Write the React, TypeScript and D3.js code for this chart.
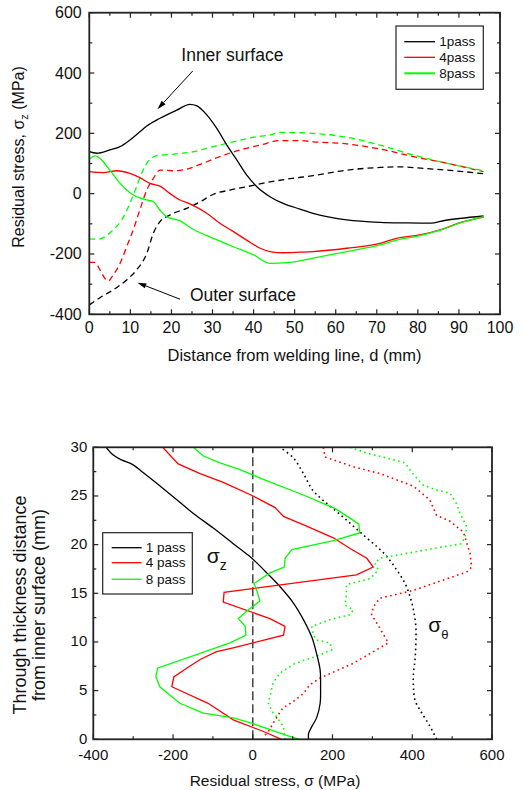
import React from 'react';
import * as d3 from 'd3';

// ---- Axial residual stress along the pipe surface (distance d in mm, stress in MPa) ----
// Inner surface (solid lines)
const inner1Dist = [0, 1.8, 5, 7.5, 9.9, 12.3, 14, 17.2, 21.3, 24.5, 26.2, 28.6, 31, 33.5, 35.9, 38.3, 40.8, 44, 47.2, 51.3, 54.5, 58.5, 62.7, 70.8, 77, 83, 86.5, 90.3, 96];
const inner1Stress = [139, 134, 145, 156, 178, 205, 224, 250, 277, 296, 291, 261, 217, 161, 112, 62, 23, -10, -32, -51, -65, -78, -87, -95, -97, -98, -89, -82, -74];

const inner4Dist = [0, 3.4, 6.7, 9.9, 12.3, 14.8, 17.2, 19.6, 22.1, 24.5, 28.6, 31.8, 35.1, 38.3, 41.6, 44, 47.2, 51.3, 54.5, 62.7, 70.8, 74.8, 80.5, 85.4, 90.3, 96];
const inner4Stress = [73, 70, 76, 67, 53, 34, 25, 1, -21, -34, -65, -98, -126, -154, -181, -192, -196, -194, -192, -181, -165, -148, -137, -120, -96, -78];

const inner8Dist = [0, 1.4, 2.6, 5, 7.5, 9.9, 11.5, 14, 15.6, 17.2, 18.8, 22.1, 25.3, 30.2, 35.1, 40, 44, 48.1, 51.3, 54.5, 62.7, 70.8, 74.8, 80.5, 85.4, 90.3, 96];
const inner8Stress = [114, 125, 117, 78, 34, 3, -10, -21, -27, -54, -76, -90, -118, -148, -176, -203, -231, -229, -223, -214, -192, -170, -154, -139, -121, -97, -76];

// Outer surface (dashed lines)
const outer1Dist = [0, 2.6, 6.7, 9.1, 11.5, 14, 15.6, 17.2, 19.6, 23.7, 27, 30.2, 34.3, 38.3, 43.2, 48.1, 54.5, 62.7, 70.8, 74.8, 83, 91.1, 96];
const outer1Stress = [-369, -345, -311, -286, -253, -198, -131, -93, -71, -49, -27, -2, 12, 23, 37, 48, 60, 78, 87, 89, 82, 73, 66];

const outer4Dist = [0, 1.4, 2.6, 3.8, 4.6, 5.8, 7.5, 9.1, 10.7, 12.3, 14, 15.6, 17.2, 20.5, 23.7, 27, 31.8, 36.7, 41.6, 46.4, 51.3, 54.5, 62.7, 70.8, 78.9, 87, 96];
const outer4Stress = [-228, -228, -253, -281, -290, -270, -231, -176, -120, -54, 12, 51, 78, 76, 81, 97, 123, 145, 161, 176, 176, 172, 165, 148, 123, 101, 73];

const outer8Dist = [0, 2.2, 3.8, 5.8, 7.9, 9.9, 11.5, 13.1, 14.3, 16.4, 20.5, 25.3, 30.2, 35.1, 40, 44, 46.4, 51.3, 54.5, 62.7, 70.8, 78.9, 87, 96];
const outer8Stress = [-150, -151, -143, -120, -87, -32, 23, 78, 106, 126, 131, 139, 156, 172, 187, 195, 203, 202, 200, 187, 161, 128, 101, 76];

// ---- Through-thickness profiles (depth in mm from the inner surface, stress in MPa) ----
// Axial stress sigma_z (solid)
const axial1Depth = [0, 0.6, 1.3, 2.2, 3.7, 5.4, 7.1, 8.8, 10.5, 12.3, 14.0, 15.7, 17.1, 18.4, 18.9, 20.1, 21.7, 23.2, 24.9, 26.3, 27.4, 28.2, 28.7, 29.2, 30];
const axial1Stress = [140, 140, 148, 160, 169, 170, 169, 160, 148, 127, 102, 68, 35, 3, -11, -49, -99, -149, -199, -241, -275, -300, -329, -350, -368];

const axial4Depth = [30, 28.3, 27.3, 26.4, 25, 23.8, 22.9, 21.9, 20.7, 19.6, 18.6, 17.7, 16.9, 15.1, 14.1, 12.4, 11.6, 10.7, 9.4, 9.0, 8.2, 7.3, 6.4, 5.4, 3.7, 2.0, 0.8, 0];
const axial4Stress = [-226, -187, -132, -74, 1, 56, 77, 135, 202, 244, 286, 302, 260, -72, -74, 43, 81, 77, -49, -91, -132, -166, -198, -203, -112, -49, 27, 72];

const axial8Depth = [30, 29.1, 28.4, 27.7, 26.5, 25.1, 23.7, 22.8, 22.1, 21.2, 20.4, 19.5, 18.6, 17.7, 17.1, 16.0, 15.3, 14.2, 13.3, 12.4, 11.6, 10.7, 9.9, 7.3, 6.4, 5.4, 3.7, 2.7, 2.2, 1.6, 0.4, 0];
const axial8Stress = [-149, -124, -82, -32, 39, 127, 207, 241, 266, 268, 202, 98, 81, 79, 43, 3, 10, 18, -11, -36, -19, -17, -57, -239, -243, -233, -183, -124, -49, 1, 85, 117];

// Hoop stress sigma_theta (dotted)
const hoop1Depth = [0, 1.3, 2.7, 4.0, 5.4, 6.8, 8.2, 9.9, 11.6, 13.3, 14.7, 16.0, 17.4, 18.8, 19.8, 21.0, 22.2, 23.4, 24.6, 25.6, 27.3, 28.9, 30];
const hoop1Stress = [461, 445, 424, 407, 403, 403, 407, 409, 409, 403, 394, 382, 361, 336, 311, 277, 244, 210, 175, 150, 127, 102, 68];

const hoop4Depth = [30, 29.0, 28.0, 27.3, 26.0, 24.6, 23.0, 22.4, 21.3, 19.1, 17.7, 17.2, 15.3, 14.5, 13.6, 12.8, 11.4, 9.9, 7.8, 6.3, 5.6, 4.7, 3.9, 3.2, 2.0, 0.8, 0.2];
const hoop4Stress = [177, 181, 252, 319, 403, 444, 461, 495, 528, 545, 549, 537, 403, 319, 302, 298, 319, 340, 252, 169, 143, 127, 102, 75, 56, 39, 26];

const hoop8Depth = [30, 29.4, 28.9, 28.4, 27.2, 26.1, 25.6, 25.3, 24.2, 23.2, 21.8, 20.8, 20.1, 19.6, 19.1, 18.6, 18.1, 17.4, 16.5, 15.9, 14.8, 13.8, 13.3, 12.8, 12.3, 11.6, 10.7, 10.2, 9.9, 9.2, 8.5, 7.8, 6.8, 5.8, 3.7, 2.7, 2.3, 1.3, 0];
const hoop8Stress = [244, 286, 336, 382, 403, 428, 461, 495, 511, 520, 537, 532, 524, 453, 386, 319, 306, 315, 294, 235, 235, 231, 252, 244, 194, 148, 152, 160, 194, 198, 158, 106, 68, 51, 39, 51, 60, 77, 81];

// Legend entries and axis ticks
const topLegend = ['1pass', '4pass', '8pass'];
const bottomLegend = ['1 pass', '4 pass', '8 pass'];
const passColors = ['#000000', '#ff0000', '#00ff00'];
const topXTicks = [0, 10, 20, 30, 40, 50, 60, 70, 80, 90, 100];
const topYTicks = [-400, -200, 0, 200, 400, 600];
const bottomXTicks = [-400, -200, 0, 200, 400, 600];
const bottomYTicks = [0, 5, 10, 15, 20, 25, 30];

// Annotation anchors (data units of the upper panel)
const innerLabelAt = [22.4, 440];
const innerArrow = [[25.2, 407], [16.6, 280]];
const outerLabelAt = [24.5, -355];
const outerArrow = [[22.1, -350], [11.7, -295]];

const FONT = "'Liberation Sans', Arial, Helvetica, sans-serif";
const AXIS = '#222';

const zip = (a: number[], b: number[]) => a.map((v, i) => [v, b[i]] as [number, number]);

function Arrow({ from, to }: { from: [number, number]; to: [number, number] }) {
  const dx = to[0] - from[0];
  const dy = to[1] - from[1];
  const len = Math.hypot(dx, dy);
  const ux = dx / len, uy = dy / len;
  const hl = 9, hw = 2.6;
  const bx = to[0] - ux * hl, by = to[1] - uy * hl;
  const p1 = [bx - uy * hw, by + ux * hw];
  const p2 = [bx + uy * hw, by - ux * hw];
  return (
    <g>
      <line x1={from[0]} y1={from[1]} x2={bx} y2={by} stroke="#000" strokeWidth={1} />
      <polygon points={`${to[0]},${to[1]} ${p1[0]},${p1[1]} ${p2[0]},${p2[1]}`} fill="#000" />
    </g>
  );
}

export default function App() {
  // upper panel
  const xT = d3.scaleLinear().domain([0, 100]).range([89.3, 500]);
  const yT = d3.scaleLinear().domain([-400, 600]).range([314.3, 12.7]);
  // lower panel
  const xB = d3.scaleLinear().domain([-400, 600]).range([93.3, 492]);
  const yB = d3.scaleLinear().domain([0, 30]).range([739.3, 447.3]);

  const lineT = d3.line<[number, number]>().x(d => xT(d[0])).y(d => yT(d[1])).curve(d3.curveMonotoneX);
  const lineB = d3.line<[number, number]>().x(d => xB(d[1])).y(d => yB(d[0]));
  const lineBSmooth = d3.line<[number, number]>().x(d => xB(d[1])).y(d => yB(d[0])).curve(d3.curveCatmullRom);

  const innerSeries = [zip(inner1Dist, inner1Stress), zip(inner4Dist, inner4Stress), zip(inner8Dist, inner8Stress)];
  const outerSeries = [zip(outer1Dist, outer1Stress), zip(outer4Dist, outer4Stress), zip(outer8Dist, outer8Stress)];
  const axialSeries = [zip(axial1Depth, axial1Stress), zip(axial4Depth, axial4Stress), zip(axial8Depth, axial8Stress)];
  const hoopSeries = [zip(hoop1Depth, hoop1Stress), zip(hoop4Depth, hoop4Stress), zip(hoop8Depth, hoop8Stress)];

  const [tx0, tx1] = xT.range();
  const [ty0, ty1] = yT.range(); // bottom, top
  const [bx0, bx1] = xB.range();
  const [by0, by1] = yB.range();

  const topXMinor = d3.range(0, 100.01, 5);
  const topYMinor = d3.range(-400, 600.01, 100);
  const botXMinor = d3.range(-400, 600.01, 100);
  const botYMinor = d3.range(0, 30.01, 2.5);

  const MAJ = 5, MIN = 3;

  return (
    <svg width={523} height={790} style={{ position: 'absolute', left: 0, top: 0, background: '#fff' }} fontFamily={FONT}>
      <rect x={0} y={0} width={523} height={790} fill="#fff" />

      {/* ================= upper panel ================= */}
      <defs>
        <clipPath id="clipTop"><rect x={tx0} y={ty1} width={tx1 - tx0} height={ty0 - ty1} /></clipPath>
        <clipPath id="clipBot"><rect x={bx0} y={by1} width={bx1 - bx0} height={by0 - by1} /></clipPath>
      </defs>

      <g clipPath="url(#clipTop)">
        {outerSeries.map((s, i) => (
          <path key={'o' + i} d={lineT(s) || ''} fill="none" stroke={passColors[i]} strokeWidth={1.3} strokeDasharray="6 4" />
        ))}
        {innerSeries.map((s, i) => (
          <path key={'i' + i} d={lineT(s) || ''} fill="none" stroke={passColors[i]} strokeWidth={1.3} />
        ))}
      </g>

      {/* ticks, inward on all four sides */}
      {topXMinor.map(v => {
        const len = v % 10 === 0 ? MAJ : MIN;
        return (
          <g key={'tx' + v}>
            <line x1={xT(v)} x2={xT(v)} y1={ty0} y2={ty0 - len} stroke={AXIS} strokeWidth={1.2} />
            <line x1={xT(v)} x2={xT(v)} y1={ty1} y2={ty1 + len} stroke={AXIS} strokeWidth={1.2} />
          </g>
        );
      })}
      {topYMinor.map(v => {
        const len = v % 200 === 0 ? MAJ : MIN;
        return (
          <g key={'ty' + v}>
            <line x1={tx0} x2={tx0 + len} y1={yT(v)} y2={yT(v)} stroke={AXIS} strokeWidth={1.2} />
            <line x1={tx1} x2={tx1 - len} y1={yT(v)} y2={yT(v)} stroke={AXIS} strokeWidth={1.2} />
          </g>
        );
      })}
      <rect x={tx0} y={ty1} width={tx1 - tx0} height={ty0 - ty1} fill="none" stroke={AXIS} strokeWidth={1.8} />

      {topXTicks.map(v => (
        <text key={'txl' + v} x={xT(v)} y={333} fontSize={16} textAnchor="middle" fill="#111">{v}</text>
      ))}
      {topYTicks.map(v => (
        <text key={'tyl' + v} x={81.7} y={yT(v)} fontSize={16} textAnchor="end" dominantBaseline="central" fill="#111">{v}</text>
      ))}

      <text x={294.5} y={361} fontSize={16.5} textAnchor="middle" fill="#111">Distance from welding line, d (mm)</text>
      <text transform="translate(24,157) rotate(-90)" fontSize={16} textAnchor="middle" fill="#111">
        Residual stress, σ<tspan fontSize={11} dy={4}>z</tspan><tspan dy={-4}> (MPa)</tspan>
      </text>

      {/* annotations */}
      <text x={xT(innerLabelAt[0])} y={yT(innerLabelAt[1])} fontSize={17.5} fill="#111">Inner surface</text>
      <Arrow from={[xT(innerArrow[0][0]), yT(innerArrow[0][1])]} to={[xT(innerArrow[1][0]), yT(innerArrow[1][1])]} />
      <text x={xT(outerLabelAt[0])} y={yT(outerLabelAt[1])} fontSize={17.5} fill="#111">Outer surface</text>
      <Arrow from={[xT(outerArrow[0][0]), yT(outerArrow[0][1])]} to={[xT(outerArrow[1][0]), yT(outerArrow[1][1])]} />

      {/* legend */}
      <rect x={396} y={26} width={87.3} height={63.3} fill="#fff" stroke={AXIS} strokeWidth={1.2} />
      {topLegend.map((name, i) => {
        const yy = [41.7, 57.3, 73.3][i];
        return (
          <g key={'tl' + i}>
            <line x1={404.3} x2={435} y1={yy} y2={yy} stroke={passColors[i]} strokeWidth={i === 2 ? 2 : 1.3} />
            <text x={439.3} y={yy} fontSize={13.5} dominantBaseline="central" fill="#111">{name}</text>
          </g>
        );
      })}

      {/* ================= lower panel ================= */}
      <line x1={xB(0)} x2={xB(0)} y1={by0} y2={by1} stroke="#444" strokeWidth={1.5} strokeDasharray="9 4" />

      <g clipPath="url(#clipBot)">
        {hoopSeries.map((s, i) => (
          <path key={'h' + i} d={(i === 0 ? lineBSmooth(s) : lineB(s)) || ''} fill="none" stroke={passColors[i]} strokeWidth={1.6} strokeDasharray="1.6 3.4" />
        ))}
        {axialSeries.map((s, i) => (
          <path key={'a' + i} d={(i === 0 ? lineBSmooth(s) : lineB(s)) || ''} fill="none" stroke={passColors[i]} strokeWidth={1.3} />
        ))}
      </g>

      {botXMinor.map(v => {
        const len = v % 200 === 0 ? MAJ : MIN;
        return (
          <g key={'bx' + v}>
            <line x1={xB(v)} x2={xB(v)} y1={by0} y2={by0 - len} stroke={AXIS} strokeWidth={1.2} />
            <line x1={xB(v)} x2={xB(v)} y1={by1} y2={by1 + len} stroke={AXIS} strokeWidth={1.2} />
          </g>
        );
      })}
      {botYMinor.map(v => {
        const len = v % 5 === 0 ? MAJ : MIN;
        return (
          <g key={'by' + v}>
            <line x1={bx0} x2={bx0 + len} y1={yB(v)} y2={yB(v)} stroke={AXIS} strokeWidth={1.2} />
            <line x1={bx1} x2={bx1 - len} y1={yB(v)} y2={yB(v)} stroke={AXIS} strokeWidth={1.2} />
          </g>
        );
      })}
      <rect x={bx0} y={by1} width={bx1 - bx0} height={by0 - by1} fill="none" stroke={AXIS} strokeWidth={1.8} />

      {bottomXTicks.map(v => (
        <text key={'bxl' + v} x={xB(v)} y={760} fontSize={15} textAnchor="middle" fill="#111">{v}</text>
      ))}
      {bottomYTicks.map(v => (
        <text key={'byl' + v} x={87.3} y={yB(v) - 1} fontSize={15} textAnchor="end" dominantBaseline="central" fill="#111">{v}</text>
      ))}

      <text x={275} y={786} fontSize={15.5} textAnchor="middle" fill="#111">Residual stress, σ (MPa)</text>
      <text transform="translate(26,605) rotate(-90)" fontSize={18} textAnchor="middle" fill="#111">Through thickness distance</text>
      <text transform="translate(45,605) rotate(-90)" fontSize={18} textAnchor="middle" fill="#111">from inner surface (mm)</text>

      {/* component labels */}
      <text x={206.7} y={563.3} fontSize={21} fill="#111">σ<tspan fontSize={14} dy={6.5}>z</tspan></text>
      <text x={428.3} y={632} fontSize={21} fill="#111">σ<tspan fontSize={13} dy={7}>θ</tspan></text>

      {/* legend */}
      <rect x={102.7} y={532.7} width={89.6} height={61.3} fill="#fff" stroke={AXIS} strokeWidth={1.2} />
      {bottomLegend.map((name, i) => {
        const yy = [547.7, 562.7, 579.3][i];
        return (
          <g key={'bl' + i}>
            <line x1={111.7} x2={141.7} y1={yy} y2={yy} stroke={passColors[i]} strokeWidth={1.3} />
            <text x={145.7} y={yy} fontSize={13.5} dominantBaseline="central" fill="#111">{name}</text>
          </g>
        );
      })}
    </svg>
  );
}
